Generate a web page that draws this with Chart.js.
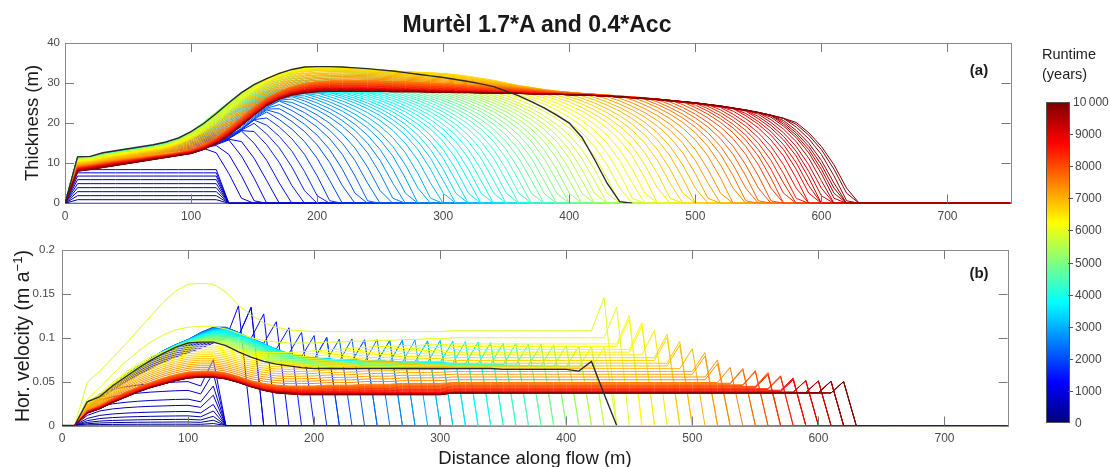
<!DOCTYPE html>
<html><head><meta charset="utf-8">
<script src="https://cdn.jsdelivr.net/npm/chart.js@4.4.1/dist/chart.umd.min.js"></script>
<style>
body{margin:0;background:#fff;width:1110px;height:467px;overflow:hidden;position:relative;font-family:"Liberation Sans",Arial,Helvetica,sans-serif;}
canvas{position:absolute;left:0;}
.t{position:absolute;white-space:nowrap;color:#1a1a1a;line-height:1;}
.rot{transform:translate(-50%,-50%) rotate(-90deg);}
.cl{position:absolute;left:1075px;font-size:12px;color:#444;transform:translateY(-50%);line-height:1;white-space:nowrap;}
.ct{position:absolute;left:1068px;width:5px;height:1px;background:#555;}
</style></head><body>
<canvas id="cA" width="1110" height="240" style="top:0;width:1110px;height:240px"></canvas>
<canvas id="cB" width="1110" height="237" style="top:230px;width:1110px;height:237px"></canvas>
<div class="t" style="left:537px;top:13px;font-size:23px;font-weight:bold;transform:translateX(-50%)">Murtèl 1.7*A and 0.4*Acc</div>
<div class="t rot" style="left:32px;top:123px;font-size:18.5px">Thickness (m)</div>
<div class="t rot" style="left:23px;top:336px;font-size:19.5px">Hor. velocity (m a<sup style="font-size:0.68em;vertical-align:0.55em;line-height:0">−1</sup>)</div>
<div class="t" style="left:535px;top:458px;font-size:18.5px;transform:translate(-50%,-50%)">Distance along flow (m)</div>
<div class="t" style="left:979px;top:69px;font-size:15px;font-weight:bold;transform:translate(-50%,-50%)">(a)</div>
<div class="t" style="left:979px;top:272px;font-size:15px;font-weight:bold;transform:translate(-50%,-50%)">(b)</div>
<div class="t" style="left:1042px;top:44px;font-size:14.5px;line-height:20px;color:#222">Runtime<br>(years)</div>
<div id="cbar" style="position:absolute;left:1046px;top:102px;width:24px;height:321px;box-sizing:border-box;border:1px solid #555;background:linear-gradient(to top,#00007f 0%,#0000ff 12.5%,#00ffff 37.5%,#ffff00 62.5%,#ff0000 87.5%,#7f0000 100%)"></div>
<div id="cbLabels"></div>
<script>
// ---------- DATA ----------
const distance = [0,10,20,30,40,50,60,70,80,90,100,110,120,130,140,150,160,170,180,190,200,210,220,230,240,250,260,270,280,290,300,310,320,330,340,350,360,370,380,390,400,410,420,430,440,450,460,470,480,490,500,510,520,530,540,550,560,570,580,590,600,610,620,630,640,650,660,670,680,690,700,710,720,730,740,750];
const xTicks = [0,100,200,300,400,500,600,700];
const thickTicks = [0,10,20,30,40];
const velTicks = [0,0.05,0.1,0.15,0.2];
const runtimeTicks = [0,1000,2000,3000,4000,5000,6000,7000,8000,9000,10000];
const runtimeYears = [0,100,200,300,400,500,600,700,800,900,1000,1100,1200,1300,1400,1500,1600,1700,1800,1900,2000,2100,2200,2300,2400,2500,2600,2700,2800,2900,3000,3100,3200,3300,3400,3500,3600,3700,3800,3900,4000,4100,4200,4300,4400,4500,4600,4700,4800,4900,5000,5100,5200,5300,5400,5500,5600,5700,5800,5900,6000,6100,6200,6300,6400,6500,6600,6700,6800,6900,7000,7100,7200,7300,7400,7500,7600,7700,7800,7900,8000,8100,8200,8300,8400,8500,8600,8700,8800,8900,9000,9100,9200,9300,9400,9500,9600,9700,9800,9900,10000];

// early phase (0-900 yr): flat ice body from 10 m to 120 m
const flatThickness = [0,0.9,1.9,2.9,3.9,4.9,5.9,6.8,7.6,8.4];
const flatVelocity = [0,0.0015,0.004,0.007,0.011,0.016,0.023,0.03,0.04,0.05];
const flatVelShape = [0,0,0.5,0.72,0.82,0.88,0.92,0.95,0.97,0.99,1,0.9,1.5,0];

// front position (m) for runtimes 1000..10000 yr
const frontPosition = [142,151,160,169,178,187,195,203,211,219,
227,234,241,248,255,262,268,274,280,286,
292,298,304,309,314,319,324,329,334,339,
344,349,354,359,364,369,374,379,384,389,
394,399,404,409,414,419,424,429,434,440,
446,452,458,464,470,476,482,488,494,500,
506,512,518,524,530,536,541,546,551,556,
561,566,570,574,578,582,586,590,594,597,
600,603,606,609,612,614,616,618,621,624,
626];
// thickness behind the front (m), every 10 m back from the front
const noseThickness = [0,6.3,11.8,15.8,18.8,21.1,23,24.5,25.8,26.8,27.7,28.5,29.2,29.9,30.6,31.3,32,32.7,33.4,34.1,34.8,35.5,36.2,36.9,37.6,38.3,39,39.7,40.4,41.1,41.8];

// thickness profiles (x = 0..640 m) at key runtimes
const thickKeyYears = [1000,2000,3200,4200,5000,6000,6600,7500,8750,10000];
const thick1000 = [0,10.6,10.9,11.3,11.6,11.9,12.2,12.5,12.8,13.1,13.4,13.7,14.2,15.6,17.6,20,22.4,24.4,26,27,27.3,27.5,27.5,27.5,27.5,27.5,27.5,27.5,27.5,27.5,27.5,27.5,27.5,27.5,27.5,27.5,27.5,27.5,27.5,27.5,27.5,27.5,27.5,27.5,27.5,27.5,27.5,27.5,27.5,27.5,27.5,27.5,27.5,27.5,27.5,27.5,27.5,27.5,27.5,27.5,27.5,27.5,27.5,27.5,27.5];
const thick2000 = [0,11.5,11.6,12.3,12.8,13.3,13.8,14.3,14.9,15.6,16.3,16.5,16.3,16.9,18.7,21.1,23.3,25.1,26.4,27.1,27.4,27.6,27.6,27.6,27.6,27.6,27.6,27.6,27.6,27.6,27.6,27.6,27.6,27.6,27.6,27.6,27.6,27.6,27.6,27.6,27.6,27.6,27.6,27.6,27.6,27.6,27.6,27.6,27.6,27.6,27.6,27.6,27.6,27.6,27.6,27.6,27.6,27.6,27.6,27.6,27.6,27.6,27.6,27.6,27.6];
const thick3200 = [0,11.4,11.5,12.3,12.8,13.3,13.8,14.3,14.9,15.6,16.8,18.3,20,21.8,23.4,24.8,25.9,26.7,27.2,27.5,27.6,27.7,27.7,27.7,27.7,27.7,27.7,27.7,27.7,27.7,27.7,27.7,27.7,27.7,27.7,27.7,27.7,27.7,27.7,27.7,27.7,27.7,27.7,27.7,27.7,27.7,27.7,27.7,27.7,27.7,27.7,27.7,27.7,27.7,27.7,27.7,27.7,27.7,27.7,27.7,27.7,27.7,27.7,27.7,27.7];
const thick4200 = [0,11.3,11.4,12.2,12.7,13.2,13.7,14.2,14.8,15.8,17.6,19.9,22.3,24.4,26.1,27.3,28.1,28.5,28.5,28.3,28.1,27.9,27.8,27.7,27.7,27.7,27.7,27.7,27.7,27.7,27.7,27.7,27.7,27.7,27.7,27.7,27.7,27.7,27.7,27.7,27.7,27.7,27.7,27.7,27.7,27.7,27.7,27.7,27.7,27.7,27.7,27.7,27.7,27.7,27.7,27.7,27.7,27.7,27.7,27.7,27.7,27.7,27.7,27.7,27.7];
const thick5000 = [0,11.2,11.3,12.1,12.6,13.1,13.6,14.1,14.7,15.9,17.9,20.2,22.8,25.3,27.7,29.7,31.1,32.1,32.7,33,33.1,33,32.8,32.5,32.2,31.8,31.3,30.7,30.1,29.5,29,28.6,28.3,28,27.8,27.7,27.7,27.7,27.7,27.7,27.7,27.7,27.7,27.7,27.7,27.7,27.7,27.7,27.7,27.7,27.7,27.7,27.7,27.7,27.7,27.7,27.7,27.7,27.7,27.7,27.7,27.7,27.7,27.7,27.7];
const thick6000 = [0,10.8,11,11.8,12.3,12.8,13.3,13.8,14.4,15.4,16.9,18.9,21.4,24.1,26.9,29.3,31.1,32.5,33.4,33.9,34.1,34.1,34,33.8,33.6,33.3,33,32.7,32.4,32.1,31.8,31.4,31,30.6,30.1,29.6,29.1,28.6,28.2,27.9,27.6,27.4,27.2,27,26.8,26.6,26.4,26.2,26,25.8,25.6,25.4,25.1,24.8,24.4,24,23.5,23,22.4,21.8,21,20,19,17.5,16];
const thick6600 = [0,10.2,10.4,11.1,11.6,12.1,12.6,13.1,13.7,14.6,15.9,17.6,19.8,22.5,25.2,27.7,29.8,31.3,32.4,33.1,33.4,33.5,33.5,33.4,33.3,33.2,33,32.9,32.7,32.6,32.4,32.1,31.7,31.2,30.7,30.1,29.5,29,28.5,28.1,27.8,27.5,27.3,27.1,26.9,26.7,26.5,26.3,26.1,25.9,25.7,25.4,25.1,24.8,24.4,24,23.5,23,22.4,21.8,21,20,19,17.5,16];
const thick7500 = [0,9.2,9.6,10.1,10.6,11,11.4,11.8,12.2,12.7,13.4,14.7,16.6,19,21.6,24.2,26.4,28,29.2,30,30.4,30.6,30.7,30.7,30.7,30.6,30.5,30.4,30.3,30.1,30,29.8,29.6,29.4,29.2,29,28.7,28.4,28.1,27.8,27.6,27.4,27.2,27,26.8,26.6,26.4,26.2,25.9,25.6,25.3,25,24.6,24.2,23.8,23.3,22.8,22.2,21.6,20.9,20,19,17.8,16.4,15];
const thick8750 = [0,8.5,8.9,9.4,9.9,10.3,10.8,11.3,11.7,12.2,12.7,13.8,15.3,17.4,19.9,22.4,24.8,26.4,27.5,28.2,28.6,28.7,28.7,28.7,28.6,28.6,28.5,28.4,28.3,28.2,28.1,28,27.9,27.8,27.7,27.6,27.5,27.4,27.3,27.2,27.1,27,26.9,26.7,26.5,26.3,26.1,25.8,25.5,25.2,24.9,24.5,24.1,23.6,23.1,22.5,21.8,21,20.2,19.3,18.2,17,15.6,14,12.4];
const thick10000 = [0,8,8.4,8.9,9.4,9.9,10.4,10.9,11.4,11.9,12.4,13.4,14.9,16.9,19.4,22,24.4,26,27,27.5,27.8,27.9,27.9,27.9,27.9,27.9,27.8,27.8,27.8,27.7,27.7,27.6,27.6,27.5,27.5,27.4,27.4,27.3,27.3,27.2,27.1,27,26.9,26.8,26.6,26.4,26.2,26,25.7,25.4,25.1,24.7,24.3,23.8,23.3,22.7,22,21.2,20.4,19.5,18.5,17.3,16,14.5,13];

// horizontal velocity profiles (x = 0..300 m, then plateau value) at key runtimes
const velKeyYears = [1000,2000,3500,5000,5800,5900,6000,6100,7500,8750,10000];
const vel1000 = [0,0,0.022,0.03,0.04,0.049,0.057,0.065,0.072,0.078,0.083,0.088,0.094,0.099,0.101,0.1,0.096,0.09,0.085,0.081,0.078,0.076,0.075,0.074,0.073,0.072,0.072,0.071,0.071,0.07,0.07];
const vel2000 = [0,0,0.027,0.034,0.046,0.057,0.067,0.076,0.085,0.092,0.098,0.106,0.112,0.112,0.106,0.098,0.09,0.084,0.08,0.077,0.075,0.074,0.073,0.073,0.072,0.072,0.071,0.071,0.071,0.07,0.07];
const vel3500 = [0,0,0.026,0.033,0.045,0.056,0.066,0.075,0.084,0.091,0.097,0.103,0.108,0.109,0.105,0.099,0.093,0.087,0.082,0.079,0.077,0.076,0.075,0.075,0.074,0.074,0.073,0.073,0.073,0.072,0.072];
const vel5000 = [0,0,0.026,0.033,0.045,0.056,0.066,0.075,0.083,0.09,0.095,0.098,0.1,0.099,0.095,0.089,0.083,0.078,0.075,0.073,0.072,0.071,0.071,0.07,0.07,0.07,0.069,0.069,0.069,0.069,0.068];
const vel5800 = [0,0,0.026,0.033,0.045,0.055,0.065,0.074,0.082,0.089,0.093,0.095,0.095,0.092,0.086,0.08,0.075,0.071,0.069,0.068,0.067,0.067,0.067,0.067,0.066,0.066,0.066,0.066,0.066,0.066,0.066];
const vel5900 = [0,0,0.049,0.062,0.077,0.092,0.108,0.124,0.14,0.153,0.161,0.162,0.161,0.152,0.137,0.126,0.117,0.112,0.109,0.108,0.107,0.107,0.107,0.107,0.107,0.107,0.107,0.107,0.107,0.107,0.107];
const vel6000 = [0,0,0.03,0.043,0.058,0.072,0.084,0.095,0.103,0.109,0.112,0.113,0.113,0.11,0.105,0.1,0.097,0.095,0.094,0.094,0.094,0.095,0.095,0.096,0.096,0.097,0.097,0.098,0.098,0.099,0.099];
const vel6100 = [0,0,0.027,0.036,0.049,0.06,0.07,0.078,0.084,0.088,0.09,0.091,0.091,0.089,0.086,0.084,0.083,0.083,0.083,0.084,0.085,0.086,0.087,0.088,0.089,0.09,0.09,0.091,0.091,0.092,0.092];
const vel7500 = [0,0,0.017,0.023,0.031,0.038,0.044,0.049,0.054,0.058,0.061,0.062,0.062,0.06,0.056,0.051,0.048,0.046,0.045,0.045,0.045,0.046,0.046,0.046,0.047,0.047,0.047,0.048,0.048,0.048,0.048];
const vel8750 = [0,0,0.015,0.02,0.027,0.033,0.039,0.044,0.048,0.052,0.055,0.056,0.056,0.054,0.05,0.045,0.041,0.039,0.038,0.037,0.037,0.037,0.037,0.037,0.037,0.037,0.037,0.037,0.037,0.037,0.037];
const vel10000 = [0,0,0.014,0.019,0.026,0.032,0.038,0.043,0.047,0.051,0.054,0.055,0.055,0.053,0.049,0.044,0.04,0.037,0.036,0.035,0.035,0.035,0.035,0.035,0.035,0.035,0.035,0.035,0.035,0.035,0.035];
const velPlateau = [0.069,0.069,0.071,0.068,0.066,0.108,0.1,0.093,0.049,0.038,0.037];
const frontSpikeRatio = 1.35;

// black reference profile
const blackThickness = [0,11.6,11.7,12.6,13.1,13.6,14.1,14.6,15.3,16.3,17.9,19.9,22.4,25.1,27.6,29.6,31.1,32.4,33.4,34,34.1,34.1,34,33.8,33.6,33.3,33,32.6,32.2,31.8,31.4,30.9,30.4,29.8,29.1,28,26.8,25.4,23.8,22,20,16.5,11,5,0.4,0];
const blackVelocity = [0,0,0.027,0.033,0.045,0.055,0.065,0.074,0.082,0.089,0.094,0.095,0.095,0.091,0.084,0.078,0.073,0.07,0.068,0.066,0.065,0.065,0.065,0.065,0.065,0.065,0.065,0.065,0.065,0.065,0.065,0.065,0.065,0.065,0.065,0.064,0.064,0.064,0.064,0.064,0.064,0.062,0.073,0.036,0];

// ---------- BUILD ----------
const thickKeys = [thick1000,thick2000,thick3200,thick4200,thick5000,thick6000,thick6600,thick7500,thick8750,thick10000];
const velKeys = [vel1000,vel2000,vel3500,vel5000,vel5800,vel5900,vel6000,vel6100,vel7500,vel8750,vel10000];

function jet(v){
  const c = f => Math.round(255*Math.max(0,Math.min(1,1.5-Math.abs(4*v-f))));
  return 'rgb('+c(3)+','+c(2)+','+c(1)+')';
}
function keyPair(years,t){
  let k=0; while(k<years.length-2 && t>years[k+1]) k++;
  const w=Math.max(0,Math.min(1,(t-years[k])/(years[k+1]-years[k])));
  return [k,w];
}
function noseAt(d){
  if(d<=0) return 0;
  const idx=d/10; if(idx>=noseThickness.length-1) return Infinity;
  const i=Math.floor(idx), f=idx-i;
  return noseThickness[i]*(1-f)+noseThickness[i+1]*f;
}
function velBody(k,i){ const a=velKeys[k]; return i<a.length?a[i]:velPlateau[k]; }

const thickSets=[], velSets=[];
runtimeYears.forEach((t,j)=>{
  const col=jet(t/10000);
  let tp, vp;
  if(j<flatThickness.length){
    tp=distance.map(x=>({x,y:(x>=10&&x<=120)?flatThickness[j]:0}));
    vp=distance.map((x,i)=>({x,y:i<flatVelShape.length?flatVelShape[i]*flatVelocity[j]:0}));
  } else {
    const xf=frontPosition[j-flatThickness.length];
    const [k,w]=keyPair(thickKeyYears,t);
    const A=thickKeys[k],B=thickKeys[k+1];
    tp=distance.map((x,i)=>{
      if(x>=xf||i>=A.length) return {x,y:0};
      const body=A[i]*(1-w)+B[i]*w;
      return {x,y:Math.min(body,noseAt(xf-x))};
    });
    const gi=Math.ceil(xf/10);
    const [k2,w2]=keyPair(velKeyYears,t);
    vp=distance.map((x,i)=>{
      if(i>=gi) return {x,y:0};
      const b=velBody(k2,i)*(1-w2)+velBody(k2+1,i)*w2;
      return {x,y:(i===gi-1)?b*frontSpikeRatio:b};
    });
  }
  thickSets.push({data:tp,borderColor:col,borderWidth:1,pointRadius:0,tension:0,fill:false});
  velSets.push({data:vp,borderColor:col,borderWidth:1,pointRadius:0,tension:0,fill:false});
});
thickSets.reverse(); velSets.reverse();
thickSets.unshift({data:blackThickness.map((y,i)=>({x:distance[i],y})),borderColor:'#2b2b2b',borderWidth:1.4,pointRadius:0,tension:0,fill:false});
velSets.unshift({data:blackVelocity.map((y,i)=>({x:distance[i],y})),borderColor:'#2b2b2b',borderWidth:1.4,pointRadius:0,tension:0,fill:false});

const boxPlugin={
  id:'box',
  beforeDatasetsDraw(chart){
    const {ctx,chartArea:a}=chart; ctx.save();
    ctx.strokeStyle='#8a8a8a'; ctx.lineWidth=1;
    ctx.strokeRect(Math.round(a.left)+0.5,Math.round(a.top)+0.5,Math.round(a.right-a.left),Math.round(a.bottom-a.top));
    ctx.restore();
  },
  afterDatasetsDraw(chart){
    const {ctx,chartArea:a,scales}=chart; ctx.save();
    ctx.strokeStyle='#7a7a7a'; ctx.lineWidth=1; const L=9;
    ctx.beginPath();
    scales.x.ticks.forEach(tk=>{
      if(tk.value<=0) return;
      const px=Math.round(scales.x.getPixelForValue(tk.value))+0.5;
      ctx.moveTo(px,a.bottom); ctx.lineTo(px,a.bottom-L);
      ctx.moveTo(px,a.top); ctx.lineTo(px,a.top+L);
    });
    scales.y.ticks.forEach(tk=>{
      if(tk.value<=scales.y.min||tk.value>=scales.y.max) return;
      const py=Math.round(scales.y.getPixelForValue(tk.value))+0.5;
      ctx.moveTo(a.left,py); ctx.lineTo(a.left+L,py);
      ctx.moveTo(a.right,py); ctx.lineTo(a.right-L,py);
    });
    ctx.stroke(); ctx.restore();
  }
};

const xFont={family:'"Liberation Sans", Arial, sans-serif',size:12};
const yFont={family:'"Liberation Sans", Arial, sans-serif',size:11.5};
function makeChart(id,datasets,cfg){
  return new Chart(document.getElementById(id),{
    type:'line',
    data:{datasets},
    options:{
      responsive:false,animation:false,events:[],parsing:false,normalized:true,
      layout:{padding:cfg.padding},
      plugins:{legend:{display:false},tooltip:{enabled:false},title:{display:false}},
      scales:{
        x:{type:'linear',min:0,max:750,grid:{display:false,drawTicks:false,tickLength:0},border:{display:false},
          afterBuildTicks:s=>{s.ticks=xTicks.map(v=>({value:v}));},
          ticks:{font:xFont,color:'#4a4a4a',padding:6,maxRotation:0,autoSkip:false,callback:v=>String(v)},
          afterFit:s=>{s.height=22;}},
        y:{type:'linear',min:cfg.yMin,max:cfg.yMax,grid:{display:false,drawTicks:false,tickLength:0},border:{display:false},
          afterBuildTicks:s=>{s.ticks=cfg.yTicks.map(v=>({value:v}));},
          ticks:{font:yFont,color:'#4a4a4a',padding:cfg.yPad,callback:v=>String(v)},
          afterFit:s=>{s.width=cfg.yW;}}
      }
    },
    plugins:[boxPlugin]
  });
}
makeChart('cA',thickSets,{yMin:0,yMax:40,yTicks:thickTicks,yW:65,yPad:5,padding:{left:0,top:43,right:99.5,bottom:14.7}});
makeChart('cB',velSets,{yMin:0,yMax:0.2,yTicks:velTicks,yW:62,yPad:7,padding:{left:0,top:20,right:102.5,bottom:19.5}});

// colorbar labels
const cb=document.getElementById('cbLabels');
runtimeTicks.forEach(v=>{
  const y=423-v/10000*321;
  const lab=document.createElement('div'); lab.className='cl'; lab.style.top=y+'px';
  lab.textContent=v===10000?'10\u2009000':String(v);
  if(v===10000) lab.style.left='1073px';
  cb.appendChild(lab);
  if(v>0&&v<10000){const tk=document.createElement('div'); tk.className='ct'; tk.style.top=Math.round(y)+'px'; cb.appendChild(tk);}
});
</script>
</body></html>
